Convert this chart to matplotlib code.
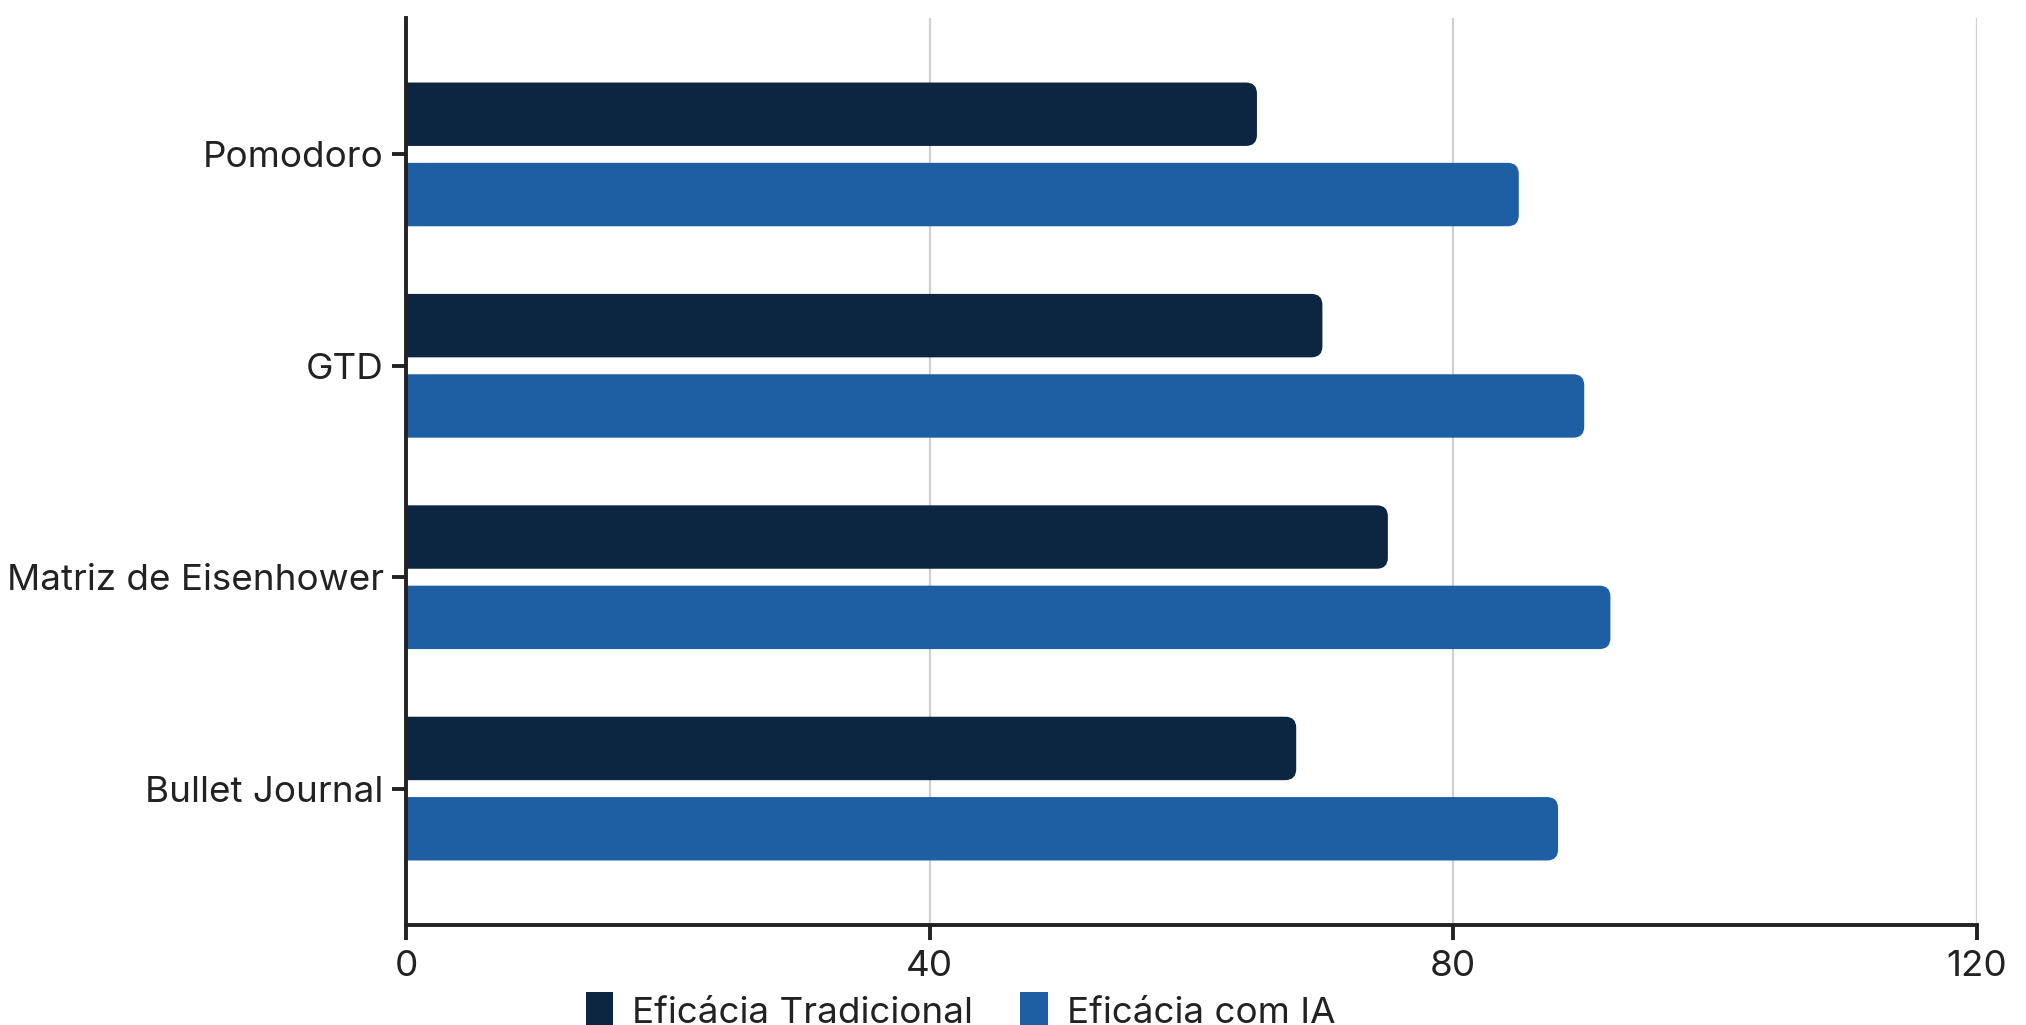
import matplotlib
matplotlib.use("Agg")
import matplotlib.pyplot as plt
from matplotlib.patches import PathPatch, Patch
from matplotlib.path import Path

# Data
categories = ["Pomodoro", "GTD", "Matriz de Eisenhower", "Bullet Journal"]
eficacia_tradicional = [65, 70, 75, 68]
eficacia_ia = [85, 90, 92, 88]
series_names = ["Eficácia Tradicional", "Eficácia com IA"]
x_ticks = [0, 40, 80, 120]

dark = "#0c2641"
blue = "#1e5fa3"
text_color = "#222222"

plt.rcParams["font.family"] = ["Inter", "DejaVu Sans"]

fig = plt.figure(figsize=(20.26, 10.25), dpi=100)
ax = fig.add_axes([0.2004, 0.0976, 0.7754, 0.8848])

pos = list(range(len(categories)))
bar_h = 0.30
off = 0.19

bars_a = ax.barh([p - off for p in pos], eficacia_tradicional, height=bar_h, color=dark)
bars_b = ax.barh([p + off for p in pos], eficacia_ia, height=bar_h, color=blue)

ax.set_xlim(0, 120)
ax.set_ylim(len(categories) - 1 + 0.645, -0.645)


def right_rounded(x, y, w, h, rx, ry):
    verts = [(x, y), (x + w - rx, y), (x + w, y), (x + w, y + ry),
             (x + w, y + h - ry), (x + w, y + h), (x + w - rx, y + h),
             (x, y + h), (x, y)]
    codes = [Path.MOVETO, Path.LINETO, Path.CURVE3, Path.CURVE3,
             Path.LINETO, Path.CURVE3, Path.CURVE3, Path.LINETO, Path.CLOSEPOLY]
    return Path(verts, codes)


# swap the plain rectangles for ones rounded on the right end
fig.canvas.draw()
px_x = ax.transData.transform((1, 0))[0] - ax.transData.transform((0, 0))[0]
px_y = abs(ax.transData.transform((0, 1))[1] - ax.transData.transform((0, 0))[1])
rx, ry = 11 / px_x, 11 / px_y
for bars in (bars_a, bars_b):
    for b in bars:
        c = b.get_facecolor()
        b.set_visible(False)
        ax.add_patch(PathPatch(right_rounded(b.get_x(), b.get_y(), b.get_width(),
                                             b.get_height(), rx, ry),
                               fc=c, ec="none", zorder=2))

ax.set_xticks(x_ticks)
ax.set_xticklabels([str(t) for t in x_ticks])
ax.set_yticks(pos)
ax.set_yticklabels(categories)

ax.grid(axis="x", color="#d0d0d0", linewidth=1.6, zorder=0)
ax.set_axisbelow(True)

for s in ["top", "right"]:
    ax.spines[s].set_visible(False)
for s in ["left", "bottom"]:
    ax.spines[s].set_linewidth(2.8)
    ax.spines[s].set_color(text_color)
    ax.spines[s].set_zorder(3)

ax.tick_params(axis="y", length=10, width=2.8, pad=6, colors=text_color, labelsize=26.5)
ax.tick_params(axis="x", length=11, width=2.8, pad=7, colors=text_color, labelsize=26.5)

handles = [Patch(facecolor=dark, label=series_names[0]),
           Patch(facecolor=blue, label=series_names[1])]
fig.legend(handles=handles, loc="center", bbox_to_anchor=(0.474, 0.014), ncol=2,
           frameon=False, fontsize=26.5, handlelength=0.75, handleheight=1.2,
           handletextpad=0.5, columnspacing=1.3, labelcolor=text_color)

fig.savefig("out.png", dpi=100, facecolor="white")
